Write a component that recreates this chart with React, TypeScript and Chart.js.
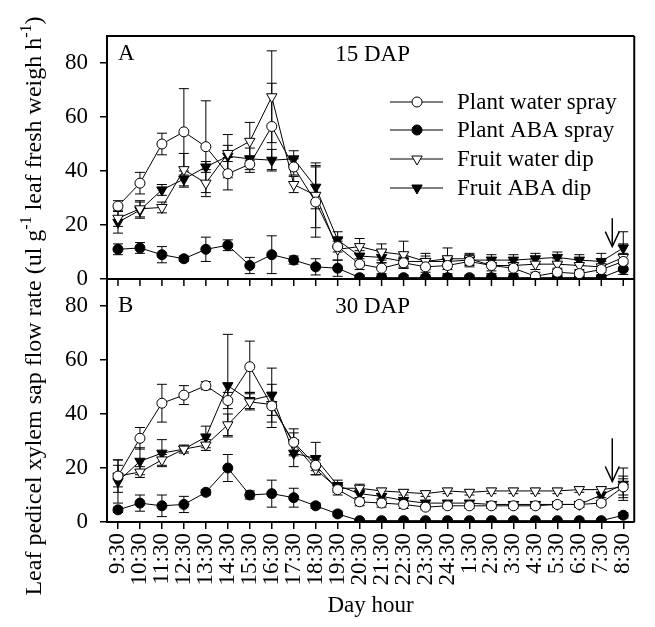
import React, { useEffect, useRef } from 'react';
import { Chart, registerables } from 'chart.js';
Chart.register(...registerables);

const hours = ['9:30', '10:30', '11:30', '12:30', '13:30', '14:30', '15:30', '16:30', '17:30', '18:30', '19:30', '20:30', '21:30', '22:30', '23:30', '24:30', '1:30', '2:30', '3:30', '4:30', '5:30', '6:30', '7:30', '8:30'];
const seriesNames = ['Plant water spray', 'Plant ABA spray', 'Fruit water dip', 'Fruit ABA dip'];
const yTicks = [0, 20, 40, 60, 80];

// Panel A (15 DAP)
const pwsA = [27, 35.5, 50, 54.5, 49, 39, 42.5, 56.5, 41.5, 28.5, 12, 5.5, 4, 6, 4.5, 5, 6.5, 5, 4, 1, 2.5, 2, 3.5, 6.5];
const pwsAErr = [2, 4, 4, 16, 17, 6, 3, 16, 3, 13, 2, 2, 2, 2, 2, 3, 2, 2, 2, 1.5, 1.5, 1.5, 2, 3];
const paA = [11, 11.5, 9, 7.5, 11, 12.5, 5, 9, 7, 4.5, 4, 0.5, 0.5, 0.5, 0.5, 0.5, 0.5, 0.5, 0.5, 0.5, 0.5, 0.5, 0.5, 3.7];
const paAErr = [2, 2, 3, 1, 4.5, 2, 3, 7, 1.5, 3, 3, 1, 1, 1, 1, 1, 1, 1, 1, 1, 1, 1, 1, 2];
const fwA = [22.5, 26, 26.5, 40.5, 35.5, 46.5, 51, 67.5, 35, 31, 11, 12, 10, 9, 6.5, 7.5, 7.5, 5, 5, 5.5, 5.5, 5, 4.5, 8];
const fwAErr = [3, 3, 2, 6, 5, 3, 7, 17, 3, 12, 4, 3, 3, 5, 2, 4, 2, 3, 2, 2, 2, 2, 2, 5];
const faA = [21, 25.5, 33, 37, 41.5, 45.5, 44.5, 44, 44.5, 34, 14.5, 8.5, 8, 6.5, 6.5, 6.5, 7, 7, 7, 7.5, 8, 7, 6.5, 11.5];
const faAErr = [4, 3, 2, 3, 2, 8, 4, 4, 3, 8, 3, 2, 2, 2, 3, 2, 2, 2, 2, 2, 2, 2, 3, 6];

// Panel B (30 DAP)
const pwsB = [17, 31, 44, 47, 50.5, 45, 57.5, 43, 29.5, 21, 12, 7.5, 7, 6.5, 5.5, 6, 6, 6, 6, 6, 6.5, 6.5, 7, 13];
const pwsBErr = [6, 4, 7, 3.5, 1.5, 3, 9.5, 8, 5, 2, 2, 1.5, 1.5, 1.5, 1, 1, 1, 1, 1, 1, 1, 1, 1, 4];
const paB = [4.5, 7, 6, 6.5, 11, 20, 10, 10.5, 9, 6, 3, 0.5, 0.5, 0.5, 0.5, 0.5, 0.5, 0.5, 0.5, 0.5, 0.5, 0.5, 0.5, 2.5];
const paBErr = [1, 3, 4, 3, 1, 5, 1.5, 5, 3.5, 1, 1, 0.5, 0.5, 0.5, 0.5, 0.5, 0.5, 0.5, 0.5, 0.5, 0.5, 0.5, 0.5, 1];
const fwB = [17, 18.5, 23, 27, 28.5, 36, 44.5, 43.5, 29, 19.5, 12.5, 12.5, 11.5, 11, 10.5, 11.5, 11, 11.5, 11.5, 11.5, 11.5, 12, 12, 13];
const fwBErr = [4, 2, 2, 1.5, 2, 4, 3, 4, 4, 2, 1.5, 1.5, 1, 1, 1, 1, 1, 1, 1, 1, 1, 1, 1, 3];
const faB = [15, 22.5, 25.5, 27, 31.5, 50.5, 45, 47, 25.5, 23.5, 13.5, 10.5, 9.5, 8, 7, 7, 7, 6.5, 6.5, 6.5, 6.5, 6.5, 10, 14];
const faBErr = [8, 5, 5, 1, 4, 19, 3, 10, 5, 6, 2, 1.5, 1, 1, 1, 1, 1, 1, 1, 1, 1, 1, 1, 6];

// arrows: [x index, y start, y end] per panel
const arrowA = [22.5, 22.5, 12];
const arrowB = [22.5, 31, 15];

const FONT = "'Liberation Serif', 'Times New Roman', serif";

export default function App() {
  const ref = useRef<HTMLCanvasElement>(null);
  useEffect(() => {
    const canvas = ref.current;
    if (!canvas) return;
    Chart.defaults.font.family = FONT;
    Chart.defaults.color = '#000';

    const styles = [
      { filled: false, tri: false },
      { filled: true, tri: false },
      { filled: false, tri: true },
      { filled: true, tri: true },
    ];
    const mk = (k: number, data: number[], axis: string) => ({
      label: seriesNames[k],
      data,
      yAxisID: axis,
      borderColor: '#000',
      borderWidth: 1,
      backgroundColor: styles[k].filled ? '#000' : '#fff',
      pointStyle: styles[k].tri ? 'triangle' : 'circle',
      pointRotation: styles[k].tri ? 180 : 0,
      pointRadius: styles[k].tri ? 6 : 5,
      pointBorderColor: '#000',
      pointBackgroundColor: styles[k].filled ? '#000' : '#fff',
      pointBorderWidth: 1,
      tension: 0,
      fill: false,
    });
    const datasets = [
      mk(0, pwsA, 'yA'), mk(1, paA, 'yA'), mk(2, fwA, 'yA'), mk(3, faA, 'yA'),
      mk(0, pwsB, 'yB'), mk(1, paB, 'yB'), mk(2, fwB, 'yB'), mk(3, faB, 'yB'),
    ];
    const errs = [pwsAErr, paAErr, fwAErr, faAErr, pwsBErr, paBErr, fwBErr, faBErr];

    const line = (ctx: CanvasRenderingContext2D, x1: number, y1: number, x2: number, y2: number) => {
      ctx.beginPath();
      ctx.moveTo(x1, y1);
      ctx.lineTo(x2, y2);
      ctx.stroke();
    };

    const plugin = {
      id: 'panelDecor',
      beforeDatasetsDraw(chart: any) {
        const ctx = chart.ctx as CanvasRenderingContext2D;
        ctx.save();
        ctx.strokeStyle = '#000';
        ctx.lineWidth = 1;
        chart.data.datasets.forEach((ds: any, d: number) => {
          const meta = chart.getDatasetMeta(d);
          const ys = chart.scales[ds.yAxisID];
          ds.data.forEach((v: number, i: number) => {
            const e = errs[d][i];
            const px = meta.data[i].x;
            const top = ys.getPixelForValue(v + e);
            const bot = ys.getPixelForValue(Math.max(v - e, 0));
            line(ctx, px, top, px, bot);
            line(ctx, px - 5, top, px + 5, top);
            line(ctx, px - 5, bot, px + 5, bot);
          });
        });
        ctx.restore();
      },
      afterDraw(chart: any) {
        const ctx = chart.ctx as CanvasRenderingContext2D;
        const ca = chart.chartArea;
        const xs = chart.scales.x;
        const yA = chart.scales.yA;
        const yB = chart.scales.yB;
        ctx.save();
        ctx.strokeStyle = '#000';
        ctx.fillStyle = '#000';
        ctx.lineWidth = 2;
        line(ctx, ca.left - 1, ca.top, ca.right, ca.top);
        line(ctx, ca.right, ca.top, ca.right, ca.bottom);
        const yd = yA.bottom;
        line(ctx, ca.left, yd, ca.right, yd);
        ctx.lineWidth = 1.5;
        hours.forEach((_, i) => {
          const px = xs.getPixelForValue(i);
          line(ctx, px, yd, px, yd + 7);
        });

        // arrows
        ctx.lineWidth = 1.5;
        [[arrowA, yA], [arrowB, yB]].forEach(([a, ys]: any) => {
          const px = xs.getPixelForValue(a[0]);
          const y1 = ys.getPixelForValue(a[1]);
          const y2 = ys.getPixelForValue(a[2]);
          line(ctx, px, y1, px, y2);
          ctx.beginPath();
          ctx.moveTo(px - 7, y2 - 15);
          ctx.lineTo(px, y2);
          ctx.lineTo(px + 7, y2 - 15);
          ctx.stroke();
        });

        // panel labels
        ctx.font = `23px ${FONT}`;
        ctx.textBaseline = 'middle';
        ctx.textAlign = 'left';
        ctx.fillText('A', ca.left + 11, yA.top + 18);
        ctx.fillText('B', ca.left + 11, yB.top + 27);
        ctx.textAlign = 'right';
        ctx.fillText('15 DAP', 410, yA.top + 19);
        ctx.fillText('30 DAP', 410, yB.top + 28);

        // legend
        ctx.textAlign = 'left';
        const rows = [102, 130, 159, 188];
        seriesNames.forEach((name, k) => {
          const ry = rows[k];
          ctx.lineWidth = 1;
          line(ctx, 390, ry, 443, ry);
          const st = styles[k];
          ctx.beginPath();
          if (st.tri) {
            const r = 6;
            ctx.moveTo(417, ry + r);
            ctx.lineTo(417 - r * 0.866, ry - r * 0.5);
            ctx.lineTo(417 + r * 0.866, ry - r * 0.5);
            ctx.closePath();
          } else {
            ctx.arc(417, ry, 5, 0, Math.PI * 2);
          }
          ctx.fillStyle = st.filled ? '#000' : '#fff';
          ctx.fill();
          ctx.stroke();
          ctx.fillStyle = '#000';
          ctx.fillText(name, 457, ry + 1);
        });

        // x title
        ctx.textAlign = 'center';
        ctx.fillText('Day hour', (ca.left + ca.right) / 2, 606);

        // y title with superscripts
        const segs: [string, boolean][] = [
          ['Leaf pedicel xylem sap flow rate (ul g', false],
          ['-1', true],
          [' leaf fresh weigh h', false],
          ['-1', true],
          [')', false],
        ];
        const mainF = `24px ${FONT}`;
        const supF = `16px ${FONT}`;
        let total = 0;
        segs.forEach(([t, s]) => {
          ctx.font = s ? supF : mainF;
          total += ctx.measureText(t).width;
        });
        ctx.translate(41, 306);
        ctx.rotate(-Math.PI / 2);
        ctx.textAlign = 'left';
        ctx.textBaseline = 'alphabetic';
        let cx = -total / 2;
        segs.forEach(([t, s]) => {
          ctx.font = s ? supF : mainF;
          ctx.fillText(t, cx, s ? -10 : 0);
          cx += ctx.measureText(t).width;
        });
        ctx.restore();
      },
    };

    const yScale = () => ({
      type: 'linear' as const,
      position: 'left' as const,
      stack: 'panels',
      stackWeight: 1,
      min: 0,
      max: 90,
      afterFit: (s: any) => { s.width = 107; },
      afterBuildTicks: (s: any) => { s.ticks = yTicks.map((v) => ({ value: v })); },
      border: { color: '#000', width: 2 },
      grid: { drawOnChartArea: false, drawTicks: true, tickLength: 7, color: '#000', lineWidth: 1.5 },
      ticks: { font: { size: 23, family: FONT }, color: '#000', padding: 12 },
    });

    const chart = new Chart(canvas, {
      type: 'line',
      data: { labels: hours, datasets: datasets as any },
      options: {
        responsive: false,
        animation: false,
        layout: { padding: { left: 0, top: 36, right: 3, bottom: 0 } },
        plugins: { legend: { display: false }, tooltip: { enabled: false } },
        scales: {
          x: {
            type: 'category',
            offset: true,
            afterFit: (s: any) => { s.height = 105; },
            border: { color: '#000', width: 2 },
            grid: { drawOnChartArea: false, drawTicks: true, tickLength: 7, color: '#000', lineWidth: 1.5 },
            ticks: { autoSkip: false, minRotation: 90, maxRotation: 90, font: { size: 23, family: FONT }, color: '#000', padding: 4 },
          },
          yB: yScale(),
          yA: yScale(),
        } as any,
      },
      plugins: [plugin],
    });
    return () => chart.destroy();
  }, []);

  return (
    <div style={{ position: 'absolute', left: 0, top: 0, width: 655, height: 627, background: '#fff' }}>
      <canvas ref={ref} width={655} height={627} style={{ display: 'block' }} />
    </div>
  );
}
